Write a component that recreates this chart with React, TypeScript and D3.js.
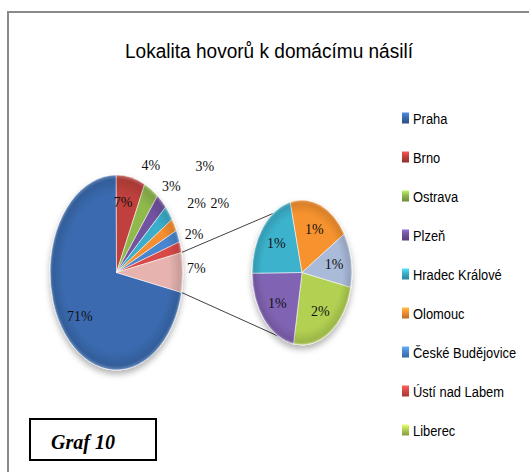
import { useEffect, useRef } from 'react';
import * as d3 from 'd3';

// regional call locations, percent shares
const categories = [
  'Praha', 'Brno', 'Ostrava', 'Plzeň', 'Hradec Králové', 'Olomouc',
  'České Budějovice', 'Ústí nad Labem', 'Liberec', 'Pardubice', 'Zlín', 'Jihlava', 'Karlovy Vary',
];
const shares = [71.4, 7.0, 3.6, 2.7, 2.5, 2.1, 2.0, 1.8, 1.6, 1.45, 1.4, 1.3, 0.8];
const colors = [
  '#3a6bb0', '#c0413d', '#8fb94c', '#7152a0', '#3aaecb', '#f68f30',
  '#4a86d0', '#d84a46', '#b2d152', '#8163b4', '#3cb2cd', '#f7932f', '#aabad9',
];
const secondaryCount = 5; // last slices go to the small pie
const legendShown = 9;    // entries that fit in the frame
const otherLabel = 'Ostatní';
const otherColor = '#e6b3af';

const title = 'Lokalita hovorů k domácímu násilí';
const caption = 'Graf 10';

// label placement: radius factor and angle shift (deg) for main pie slices (+ Other)
const mainLabelRadius = [0.71, 0.73, 1.22, 1.21, 1.72, 1.40, 1.71, 1.23, 1.2];
const mainLabelShift = [0, -4.7, -6.6, 0, -1.7, -1.2, -2.7, -3.6, -2];
const connectorAngles = [-35.5, 209];

type Slice = { name: string; value: number; color: string };

const App = () => {
  const ref = useRef<SVGSVGElement>(null);

  useEffect(() => {
    const W = 529, H = 472;
    const svg = d3.select(ref.current);
    svg.selectAll('*').remove();

    const defs = svg.append('defs');
    const f = defs.append('filter').attr('id', 'shadow')
      .attr('x', '-30%').attr('y', '-30%').attr('width', '160%').attr('height', '160%');
    f.append('feDropShadow').attr('dx', 0).attr('dy', 4).attr('stdDeviation', 3)
      .attr('flood-color', '#000').attr('flood-opacity', 0.3);

    // soft bevel over each pie
    const bevel = defs.append('radialGradient').attr('id', 'bevel');
    bevel.append('stop').attr('offset', '0%').attr('stop-color', '#000').attr('stop-opacity', 0);
    bevel.append('stop').attr('offset', '80%').attr('stop-color', '#000').attr('stop-opacity', 0);
    bevel.append('stop').attr('offset', '95%').attr('stop-color', '#000').attr('stop-opacity', 0.12);
    bevel.append('stop').attr('offset', '100%').attr('stop-color', '#fff').attr('stop-opacity', 0.3);

    colors.forEach((c, i) => {
      const g = defs.append('linearGradient').attr('id', `lg${i}`)
        .attr('x1', 0).attr('y1', 0).attr('x2', 0).attr('y2', 1);
      g.append('stop').attr('offset', '0%').attr('stop-color', d3.color(c)!.brighter(0.8).formatHex());
      g.append('stop').attr('offset', '45%').attr('stop-color', c);
      g.append('stop').attr('offset', '100%').attr('stop-color', d3.color(c)!.darker(0.8).formatHex());
    });

    svg.append('rect').attr('width', W).attr('height', H).attr('fill', '#fff');
    svg.append('rect').attr('x', 8).attr('y', 12).attr('width', W).attr('height', H)
      .attr('fill', 'none').attr('stroke', '#8a8a8a').attr('stroke-width', 2);

    const sans = 'Liberation Sans Narrow, Liberation Sans, Arial, sans-serif';
    svg.append('text').attr('x', 125).attr('y', 58)
      .attr('textLength', 288).attr('lengthAdjust', 'spacingAndGlyphs')
      .style('font-family', sans).style('font-size', '20px')
      .attr('fill', '#000').text(title);

    const nPrimary = categories.length - secondaryCount;
    const secData: Slice[] = categories.slice(nPrimary).map((c, i) => ({
      name: c, value: shares[nPrimary + i], color: colors[nPrimary + i],
    }));
    const otherValue = d3.sum(secData, d => d.value);
    const mainData: Slice[] = categories.slice(0, nPrimary).map((c, i) => ({
      name: c, value: shares[i], color: colors[i],
    }));
    mainData.push({ name: otherLabel, value: otherValue, color: otherColor });

    const total = d3.sum(mainData, d => d.value);
    const otherAngle = (otherValue / total) * 2 * Math.PI;
    const start = Math.PI / 2 + otherAngle / 2;

    const R = 100;
    const arc = d3.arc<d3.PieArcDatum<Slice>>().innerRadius(0).outerRadius(R);
    const fmt = (v: number) => `${Math.round(v)}%`;

    const main = { cx: 116.5, cy: 272.5, rx: 66.5, ry: 97.5 };
    const sec = { cx: 302, cy: 272.5, rx: 50, ry: 72.5 };
    const pt = (e: typeof main, a: number, k: number) =>
      [e.cx + e.rx * k * Math.sin(a), e.cy - e.ry * k * Math.cos(a)];

    const pie = d3.pie<Slice>().sort(null).value(d => d.value)
      .startAngle(start).endAngle(start + 2 * Math.PI);

    const mainArcs = pie(mainData);
    const secArcs = pie(secData);

    const drawPie = (e: typeof main, arcs: d3.PieArcDatum<Slice>[]) => {
      const outer = svg.append('g').attr('filter', 'url(#shadow)');
      const g = outer.append('g')
        .attr('transform', `translate(${e.cx},${e.cy}) scale(${e.rx / R},${e.ry / R})`);
      g.selectAll('path').data(arcs).enter().append('path')
        .attr('d', arc)
        .attr('fill', d => d.data.color)
        .attr('stroke', 'rgba(255,255,255,0.55)')
        .attr('stroke-width', 1)
        .attr('vector-effect', 'non-scaling-stroke');
      g.append('circle').attr('r', R).attr('fill', 'url(#bevel)').attr('pointer-events', 'none');
    };

    // connector lines
    const a0 = start - otherAngle, a1 = start;
    const ends = connectorAngles.map(a => pt(sec, (a * Math.PI) / 180, 1));
    [[pt(main, a0, 1), ends[0]], [pt(main, a1, 1), ends[1]]].forEach(([p, q]) => {
      svg.append('line').attr('x1', p[0]).attr('y1', p[1]).attr('x2', q[0]).attr('y2', q[1])
        .attr('stroke', '#404040').attr('stroke-width', 1);
    });

    drawPie(main, mainArcs);
    drawPie(sec, secArcs);

    const labelFont = 'Liberation Serif, Times New Roman, serif';
    mainArcs.forEach((d, i) => {
      const mid = (d.startAngle + d.endAngle) / 2 + (mainLabelShift[i] * Math.PI) / 180;
      const [x, y] = pt(main, mid, mainLabelRadius[i]);
      svg.append('text').attr('x', x).attr('y', y).attr('dy', '0.35em')
        .attr('text-anchor', 'middle').style('font-family', labelFont).style('font-size', '14px')
        .attr('fill', '#111').text(fmt(d.data.value));
    });
    secArcs.forEach(d => {
      const mid = (d.startAngle + d.endAngle) / 2;
      const [x, y] = pt(sec, mid, 0.65);
      svg.append('text').attr('x', x).attr('y', y).attr('dy', '0.35em')
        .attr('text-anchor', 'middle').style('font-family', labelFont).style('font-size', '14px')
        .attr('fill', '#111').text(fmt(d.data.value));
    });

    // legend
    const leg = svg.append('g');
    categories.slice(0, legendShown).forEach((c, i) => {
      const y = 118 + i * 39;
      leg.append('rect').attr('x', 402).attr('y', y - 5.5).attr('width', 7).attr('height', 11)
        .attr('fill', `url(#lg${i})`);
      leg.append('text').attr('transform', `translate(413,${y + 5.5}) scale(0.86,1)`)
        .style('font-family', 'Liberation Sans, Arial, sans-serif').style('font-size', '15px')
        .attr('fill', '#000').text(c);
    });

    // caption box
    svg.append('rect').attr('x', 30).attr('y', 419).attr('width', 126).attr('height', 41)
      .attr('fill', '#fff').attr('stroke', '#000').attr('stroke-width', 2);
    svg.append('text').attr('x', 51).attr('y', 449)
      .style('font-family', labelFont).style('font-size', '20px')
      .style('font-weight', 'bold').style('font-style', 'italic')
      .attr('fill', '#000').text(caption);
  }, []);

  return (
    <svg ref={ref} width={529} height={472}
      style={{ position: 'absolute', left: 0, top: 0, display: 'block' }} />
  );
};

export default App;
